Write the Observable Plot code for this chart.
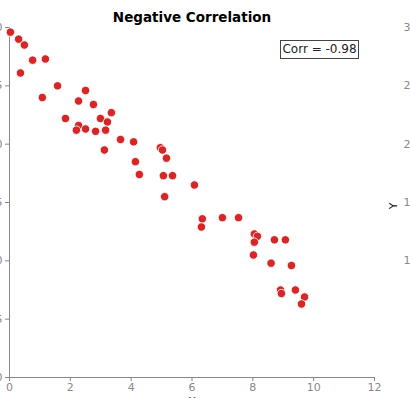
<!DOCTYPE html>
<html>
<head>
<meta charset="utf-8">
<script src="https://cdn.jsdelivr.net/npm/d3@7"></script>
<script src="https://cdn.jsdelivr.net/npm/@observablehq/plot@0.6"></script>
<style>
  html, body { margin: 0; padding: 0; background: white; overflow: hidden; }
  #wrap { position: relative; width: 410px; height: 398px; }
  #corr { position: absolute; left: 280px; top: 40px; width: 77px; height: 17px;
    border: 1px solid #444; font: 12px "DejaVu Sans", sans-serif; color: #222;
    line-height: 17px; text-align: center; background: white; white-space: nowrap; overflow: visible; }
</style>
</head>
<body>
<div id="wrap"></div>
<script>
const titleText = "Negative Correlation";
const corrLabel = "Corr = -0.98";
const xValues = [0.03,0.3,0.49,0.76,1.18,0.36,1.58,1.08,2.5,2.27,2.76,3.35,1.84,2.99,3.22,2.27,2.2,2.5,2.83,3.16,3.65,4.08,3.12,4.96,5.03,5.16,4.14,4.27,5.06,5.36,6.08,5.1,6.34,6.31,7.0,7.53,8.05,8.15,8.05,8.71,9.07,8.02,8.6,9.27,8.91,8.94,9.4,9.7,9.6];
const yValues = [29.6,29.0,28.5,27.2,27.3,26.1,25.0,24.0,24.6,23.7,23.4,22.7,22.2,22.2,21.9,21.6,21.2,21.3,21.1,21.2,20.4,20.2,19.5,19.7,19.5,18.8,18.5,17.4,17.3,17.3,16.5,15.5,13.6,12.9,13.7,13.7,12.3,12.1,11.6,11.8,11.8,10.5,9.8,9.6,7.5,7.2,7.5,6.9,6.3];
const xTicks = [0,2,4,6,8,10,12];
const yTicks = [0,5,10,15,20,25,30];

const data = xValues.map((x, i) => ({x, y: yValues[i]}));
const font = '"DejaVu Sans", sans-serif';

const chart = Plot.plot({
  width: 410,
  height: 398,
  marginLeft: 9,
  marginRight: 36,
  marginTop: 27,
  marginBottom: 21,
  style: {fontFamily: font, fontSize: "11px", color: "#888", background: "white"},
  x: {domain: [0, 12], ticks: xTicks, label: null},
  y: {domain: [0, 30], ticks: yTicks, label: null},
  marks: [
    Plot.frame({anchor: "left", stroke: "#888"}),
    Plot.frame({anchor: "bottom", stroke: "#888"}),
    Plot.axisX({ticks: xTicks, tickSize: 4, tickPadding: 2, stroke: "#888", fill: "#888", label: null}),
    Plot.axisY({ticks: yTicks, anchor: "left", tickSize: 4, tickPadding: 3, stroke: "#888", fill: "#888", label: null}),
    Plot.axisY({ticks: yTicks, anchor: "right", tickSize: 0, tickPadding: 0, textAnchor: "end", dx: 43, fill: "#888", label: null}),
    Plot.text(["Y"], {frameAnchor: "right", rotate: -90, dx: 19, fill: "#222", fontSize: 11}),
    Plot.text(["X"], {frameAnchor: "bottom", dy: 20, lineAnchor: "top", fill: "#222", fontSize: 11}),
    Plot.text([titleText], {frameAnchor: "top", dy: -6, lineAnchor: "bottom", fill: "#000", fontSize: 13.5, fontWeight: "bold"}),
    Plot.dot(data, {x: "x", y: "y", r: 4.2, fill: "#d62728", stroke: "white", strokeWidth: 0.8})
  ]
});
const wrap = document.getElementById("wrap");
wrap.appendChild(chart);
const box = document.createElement("div");
box.id = "corr";
box.textContent = corrLabel;
wrap.appendChild(box);
</script>
</body>
</html>
